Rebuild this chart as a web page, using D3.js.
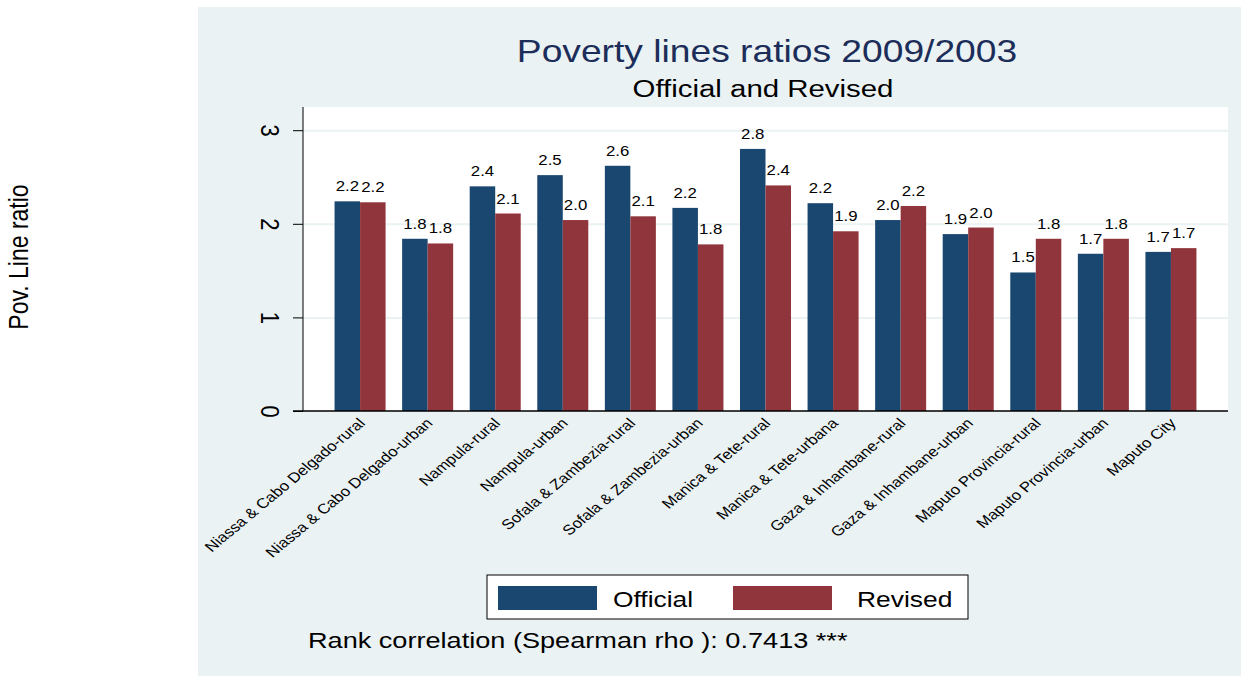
<html>

<head>
  <script src="https://d3js.org/d3.v7.min.js"></script>
  <style>
    body { margin: 0; background: #fff; }
    text { font-family: "Liberation Sans", Arial, sans-serif; }
  </style>
</head>

<body>
  <svg id="chart" width="1241" height="676"></svg>
  <script>
    const regions = ["Niassa & Cabo Delgado-rural", "Niassa & Cabo Delgado-urban", "Nampula-rural", "Nampula-urban",
      "Sofala & Zambezia-rural", "Sofala & Zambezia-urban", "Manica & Tete-rural", "Manica & Tete-urbana",
      "Gaza & Inhambane-rural", "Gaza & Inhambane-urban", "Maputo Provincia-rural", "Maputo Provincia-urban", "Maputo City"];
    const official = [2.24, 1.84, 2.40, 2.52, 2.62, 2.17, 2.80, 2.22, 2.04, 1.89, 1.48, 1.68, 1.70];
    const revised = [2.23, 1.79, 2.11, 2.04, 2.08, 1.78, 2.41, 1.92, 2.19, 1.96, 1.84, 1.84, 1.74];
    const series = ["Official", "Revised"];
    const yTicks = [0, 1, 2, 3];

    const colors = { "Official": "#1a476f", "Revised": "#90353b" };
    const bg = "#eaf2f3";
    const SX = 1.2; // the picture's text is stretched sideways

    const svg = d3.select("svg#chart");

    function place(t, x, y, rot) {
      t.attr("transform", `translate(${x},${y}) scale(${SX},1)` + (rot ? ` rotate(${rot})` : ""));
      return t;
    }

    // graph background
    svg.append("rect").attr("x", 198).attr("y", 7).attr("width", 1043).attr("height", 669).attr("fill", bg);

    const plot = { left: 303, right: 1228, top: 107, bottom: 411 };
    svg.append("rect")
      .attr("x", plot.left).attr("y", plot.top)
      .attr("width", plot.right - plot.left).attr("height", plot.bottom - plot.top)
      .attr("fill", "#fff");

    const yScale = d3.scaleLinear().domain([0, 3]).range([plot.bottom, plot.bottom - 3 * 93.6]);
    const xScale = d3.scaleBand().domain(regions).range([plot.left, plot.right])
      .paddingInner(0.245).paddingOuter(0.467);
    const subScale = d3.scaleBand().domain(series).range([0, xScale.bandwidth()]);

    // gridlines
    svg.append("g")
      .attr("class", "gridlines")
      .attr("transform", `translate(${plot.left},0)`)
      .call(d3.axisLeft(yScale).tickValues(yTicks.filter(d => d > 0)).tickSize(-(plot.right - plot.left)).tickFormat(""))
      .call(g => g.select(".domain").remove())
      .call(g => g.selectAll("line").attr("stroke", bg).attr("stroke-width", 2));

    const rows = regions.map((r, i) => ({ region: r, Official: official[i], Revised: revised[i] }));

    const groups = svg.append("g").selectAll("g").data(rows).join("g")
      .attr("transform", d => `translate(${xScale(d.region)},0)`);

    groups.selectAll("rect").data(d => series.map(s => ({ key: s, value: d[s] }))).join("rect")
      .attr("x", d => subScale(d.key))
      .attr("y", d => yScale(d.value))
      .attr("width", subScale.bandwidth())
      .attr("height", d => yScale(0) - yScale(d.value))
      .attr("fill", d => colors[d.key]);

    groups.selectAll("text").data(d => series.map(s => ({ key: s, value: d[s] }))).join("text")
      .attr("transform", d => `translate(${subScale(d.key) + subScale.bandwidth() / 2},${yScale(d.value) - 10}) scale(${SX},1)`)
      .attr("text-anchor", "middle")
      .attr("font-size", 14)
      .attr("fill", "#000")
      .text(d => d.value.toFixed(1));

    // y axis
    const yAxis = svg.append("g")
      .attr("transform", `translate(${plot.left},0)`)
      .call(d3.axisLeft(yScale).tickValues(yTicks).tickSize(10).tickPadding(0).tickFormat(d3.format("d")));
    yAxis.select(".domain").attr("d", `M0,${plot.top}V${plot.bottom}`).attr("stroke", "#000");
    yAxis.selectAll("line").attr("stroke", "#000");
    yAxis.selectAll("text")
      .attr("font-size", 22)
      .attr("fill", "#000")
      .attr("x", null).attr("dy", null)
      .attr("text-anchor", "middle")
      .attr("transform", `translate(-33,0) scale(${SX},1) rotate(90)`)
      .attr("dominant-baseline", "central");

    // x axis
    const xAxis = svg.append("g")
      .attr("transform", `translate(0,${plot.bottom})`)
      .call(d3.axisBottom(xScale).tickSize(0).tickPadding(0));
    xAxis.select(".domain").attr("d", `M${plot.left - 10},0H${plot.right}`).attr("stroke", "#000").attr("stroke-width", 1.5);
    xAxis.selectAll("text")
      .attr("font-size", 14)
      .attr("fill", "#000")
      .attr("y", null).attr("dy", null)
      .attr("text-anchor", "end")
      .attr("transform", `translate(6,13) scale(${SX},1) rotate(-45)`);

    // y title
    place(svg.append("text"), 28, 257, -90)
      .attr("text-anchor", "middle")
      .attr("font-size", 23)
      .text("Pov. Line ratio");

    // titles
    place(svg.append("text"), 767, 62).attr("text-anchor", "middle")
      .attr("font-size", 31).attr("fill", "#1c2d5a").text("Poverty lines ratios 2009/2003");
    place(svg.append("text"), 763, 97).attr("text-anchor", "middle")
      .attr("font-size", 24.5).attr("fill", "#000").text("Official and Revised");

    // legend
    const legend = svg.append("g");
    legend.append("rect").attr("x", 487).attr("y", 575).attr("width", 481).attr("height", 44)
      .attr("fill", "#fff").attr("stroke", "#000").attr("stroke-width", 1);
    const legendX = { "Official": 498, "Revised": 733 };
    const legendTextX = { "Official": 613, "Revised": 857 };
    series.forEach(s => {
      legend.append("rect").attr("x", legendX[s]).attr("y", 586).attr("width", 99).attr("height", 24).attr("fill", colors[s]);
      place(legend.append("text"), legendTextX[s], 607).attr("font-size", 22).text(s);
    });

    place(svg.append("text"), 308, 648).attr("font-size", 22.6)
      .text("Rank correlation (Spearman rho ): 0.7413 ***");
  </script>
</body>

</html>
